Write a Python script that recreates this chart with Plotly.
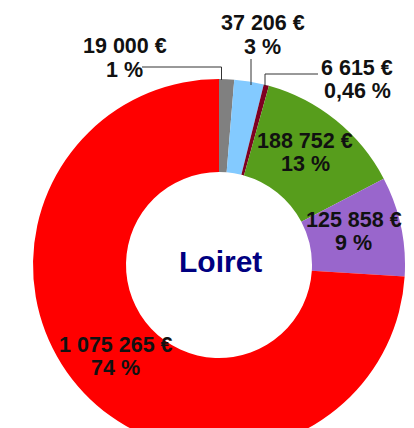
import math
import plotly.graph_objects as go

# ---- data ----
categories = ["Catégorie A", "Catégorie B", "Catégorie C", "Catégorie D", "Catégorie E", "Catégorie F"]
values = [19000, 37206, 6615, 188752, 125858, 1075265]
value_texts = ["19 000 €", "37 206 €", "6 615 €", "188 752 €", "125 858 €", "1 075 265 €"]
pct_texts = ["1 %", "3 %", "0,46 %", "13 %", "9 %", "74 %"]
colors = ["#808080", "#83CAFF", "#7E0021", "#579D1C", "#9966CC", "#FF0000"]
center_title = "Loiret"

# ---- geometry (pixels, in page coordinates; the page body adds an 8px offset) ----
OFF = 8
W, H = 406, 452
CX, CY, R = 219, 265, 186


def px(x):
    return (x - OFF) / W


def py(y):
    return 1 - (y - OFF) / H


fig = go.Figure(go.Pie(
    labels=categories,
    values=values,
    hole=0.5,
    sort=False,
    direction="clockwise",
    rotation=0,
    textinfo="none",
    hoverinfo="skip",
    marker=dict(colors=colors, line=dict(width=0)),
    showlegend=False,
    domain=dict(x=[px(CX - R), px(CX + R)], y=[py(CY + R), py(CY - R)]),
))

label_font = dict(family="Liberation Sans, Arial, sans-serif", size=21.5, color="#111111", weight="bold")
annotations = []


def two_line(x, y1, y2, t1, t2):
    annotations.append(dict(x=px(x), y=py(y1), xref="paper", yref="paper", text=t1,
                            showarrow=False, font=label_font, xanchor="center", yanchor="middle"))
    annotations.append(dict(x=px(x), y=py(y2), xref="paper", yref="paper", text=t2,
                            showarrow=False, font=label_font, xanchor="center", yanchor="middle"))


# inside labels placed at slice mid-angles computed from data
total = sum(values)
cum = 0
for i, v in enumerate(values):
    mid = (cum + v / 2) / total
    cum += v
    if i >= 3:
        th = 2 * math.pi * mid
        x = CX + 0.75 * R * math.sin(th) - 1.5
        y = CY - 0.75 * R * math.cos(th) - 4
        two_line(x, y - 11.5, y + 11.5, value_texts[i], pct_texts[i])

# outside labels
two_line(125, 46, 70, value_texts[0], pct_texts[0])
two_line(263, 23, 47, value_texts[1], pct_texts[1])
two_line(357, 68, 91, value_texts[2], pct_texts[2])

# centre title
annotations.append(dict(x=px(220), y=py(261), xref="paper", yref="paper", text=center_title,
                        showarrow=False, xanchor="center", yanchor="middle",
                        font=dict(family="Liberation Sans, Arial, sans-serif", size=30,
                                  color="#000080", weight="bold")))

shapes = []


def seg(x0, y0, x1, y1):
    shapes.append(dict(type="line", xref="paper", yref="paper",
                       x0=px(x0), y0=py(y0), x1=px(x1), y1=py(y1),
                       line=dict(color="#333333", width=1)))


seg(142, 67, 221.5, 67)
seg(221.5, 67, 221.5, 80)
seg(251, 59, 251, 85)
seg(318, 74, 265, 74)
seg(265, 74, 265, 86)

fig.update_layout(
    width=W, height=H,
    margin=dict(l=0, r=0, t=0, b=0),
    paper_bgcolor="white", plot_bgcolor="white",
    annotations=annotations, shapes=shapes,
)

fig.write_html("out.html")
